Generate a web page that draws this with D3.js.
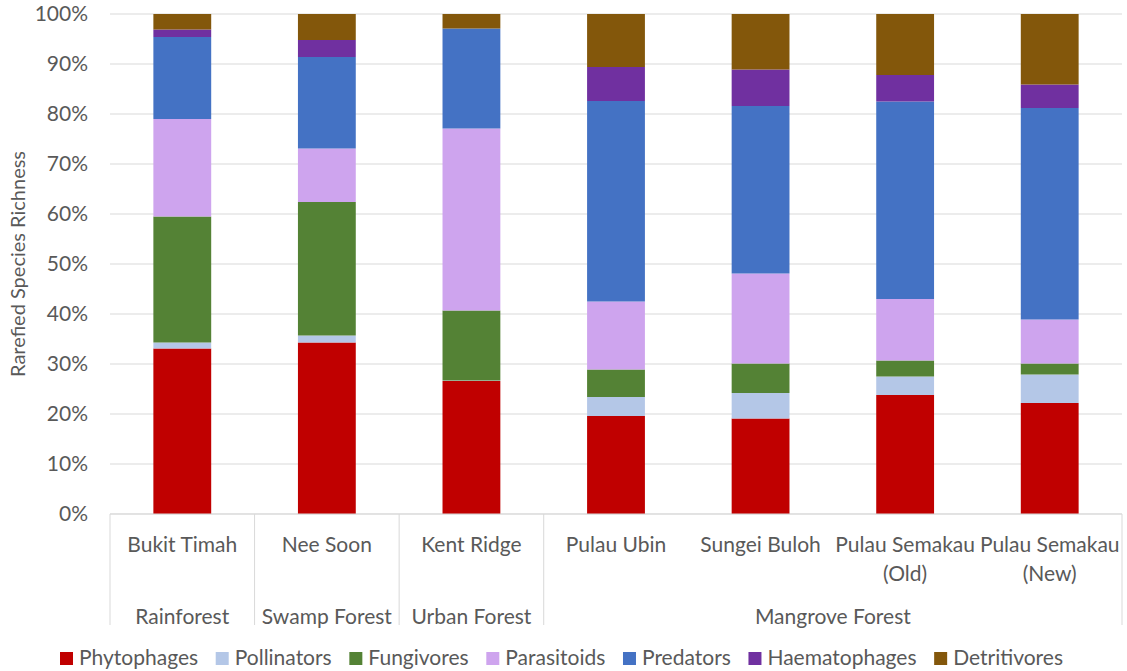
<!DOCTYPE html>
<html>
<head>
<meta charset="utf-8">
<script src="https://cdn.jsdelivr.net/npm/d3@7"></script>
<style>
  body { margin: 0; background: #fff; }
  text { font-family: Lato, "Noto Sans", sans-serif; fill: #595959; }
</style>
</head>
<body>
<div id="svg-container"></div>
<script>
/* global d3 */
(function () {
  'use strict'

  var sites = ['Bukit Timah', 'Nee Soon', 'Kent Ridge', 'Pulau Ubin', 'Sungei Buloh',
    'Pulau Semakau (Old)', 'Pulau Semakau (New)']
  var habitats = ['Rainforest', 'Swamp Forest', 'Urban Forest', 'Mangrove Forest',
    'Mangrove Forest', 'Mangrove Forest', 'Mangrove Forest']
  var guilds = ['Phytophages', 'Pollinators', 'Fungivores', 'Parasitoids', 'Predators',
    'Haematophages', 'Detritivores']

  // percent of rarefied richness per guild, one value per site
  var phytophages = [33.1, 34.3, 26.6, 19.6, 19.1, 23.8, 22.2]
  var pollinators = [1.2, 1.4, 0.1, 3.8, 5.1, 3.7, 5.7]
  var fungivores = [25.2, 26.7, 14.0, 5.5, 5.9, 3.2, 2.2]
  var parasitoids = [19.5, 10.7, 36.4, 13.6, 18.0, 12.3, 8.8]
  var predators = [16.4, 18.3, 20.0, 40.1, 33.5, 39.5, 42.3]
  var haematophages = [1.5, 3.4, 0, 6.8, 7.3, 5.3, 4.7]
  var detritivores = [3.1, 5.2, 2.9, 10.6, 11.1, 12.2, 14.1]

  var yTicks = [0, 10, 20, 30, 40, 50, 60, 70, 80, 90, 100]

  var colors = ['#c00000', '#b4c7e7', '#548235', '#cea4ee', '#4472c4', '#7030a0', '#83570b']

  var series = [phytophages, pollinators, fungivores, parasitoids, predators,
    haematophages, detritivores]

  var table = sites.map(function (s, i) {
    var row = { site: s }
    guilds.forEach(function (g, j) { row[g] = series[j][i] })
    return row
  })

  var dim = { w: 1127, h: 671 }
  var offset = { left: 110, right: 5, top: 14, bottom: 157 }
  var fontSize = '21px'

  var svg = d3.select('#svg-container').append('svg')
    .attr('width', dim.w)
    .attr('height', dim.h)

  var x = d3.scaleBand()
    .domain(sites)
    .range([offset.left, dim.w - offset.right])
    .paddingInner(0.6)
    .paddingOuter(0.3)

  var y = d3.scaleLinear()
    .domain([0, 100])
    .range([dim.h - offset.bottom, offset.top])

  // Gridlines
  svg.append('g').attr('class', 'grid')
    .selectAll('line').data(yTicks).enter().append('line')
    .attr('x1', offset.left)
    .attr('x2', dim.w - offset.right)
    .attr('y1', function (d) { return y(d) })
    .attr('y2', function (d) { return y(d) })
    .attr('stroke', '#d9d9d9')
    .attr('stroke-width', 1)

  // Y axis labels
  var yAxis = d3.axisLeft(y).tickValues(yTicks)
    .tickFormat(function (d) { return d + '%' })
    .tickSize(0).tickPadding(22)
  svg.append('g')
    .attr('transform', 'translate(' + offset.left + ',0)')
    .call(yAxis)
    .call(function (g) { g.select('.domain').remove() })
    .selectAll('text')
    .style('font-size', fontSize)
    .style('font-family', 'Lato, sans-serif')
    .attr('fill', '#595959')

  svg.append('text')
    .attr('transform', 'translate(25,' + y(50) + ') rotate(-90)')
    .attr('text-anchor', 'middle')
    .style('font-size', '20px')
    .text('Rarefied Species Richness')

  // Stacked bars
  var stack = d3.stack().keys(guilds)
  var layers = stack(table)

  svg.append('g').attr('class', 'chart')
    .selectAll('g').data(layers).enter().append('g')
    .attr('fill', function (d, i) { return colors[i] })
    .selectAll('rect').data(function (d) { return d }).enter().append('rect')
    .attr('x', function (d) { return x(d.data.site) })
    .attr('width', x.bandwidth())
    .attr('y', function (d) { return y(d[1]) })
    .attr('height', function (d) { return y(d[0]) - y(d[1]) })

  // Category axis (two levels)
  var base = y(0)
  var step = x.step()
  var half = step * 0.3
  var axisG = svg.append('g').attr('class', 'cat-axis')

  axisG.append('line')
    .attr('x1', offset.left).attr('x2', dim.w - offset.right)
    .attr('y1', base).attr('y2', base)
    .attr('stroke', '#d9d9d9')

  // group boundaries
  var groups = []
  habitats.forEach(function (h, i) {
    var last = groups[groups.length - 1]
    if (last && last.name === h) last.end = i
    else groups.push({ name: h, start: i, end: i })
  })
  var bounds = groups.map(function (g) { return x(sites[g.start]) - half })
  bounds.push(dim.w - offset.right)

  axisG.selectAll('.sep').data(bounds).enter().append('line')
    .attr('class', 'sep')
    .attr('x1', function (d) { return d }).attr('x2', function (d) { return d })
    .attr('y1', base).attr('y2', base + 111)
    .attr('stroke', '#d9d9d9')

  var siteText = axisG.selectAll('.site').data(sites).enter().append('text')
    .attr('class', 'site')
    .attr('text-anchor', 'middle')
    .attr('y', base + 38)
    .style('font-size', fontSize)
  siteText.each(function (d) {
    var parts = d.split(' (')
    var t = d3.select(this)
    var cx = x(d) + x.bandwidth() / 2
    parts.forEach(function (p, k) {
      t.append('tspan')
        .attr('x', cx)
        .attr('dy', k === 0 ? 0 : 29)
        .text(k === 0 ? p : '(' + p)
    })
  })

  axisG.selectAll('.habitat').data(groups).enter().append('text')
    .attr('class', 'habitat')
    .attr('text-anchor', 'middle')
    .attr('x', function (g) {
      return (x(sites[g.start]) - half + x(sites[g.end]) + x.bandwidth() + half) / 2
    })
    .attr('y', base + 110)
    .style('font-size', fontSize)
    .text(function (g) { return g.name })

  // Legend
  var legend = svg.append('g').attr('class', 'legend')
  var items = legend.selectAll('g').data(guilds).enter().append('g')
  items.append('rect')
    .attr('width', 13).attr('height', 13)
    .attr('y', -13)
    .attr('fill', function (d, i) { return colors[i] })
  items.append('text')
    .attr('x', 19)
    .style('font-size', fontSize)
    .text(function (d) { return d })

  var widths = []
  items.each(function () {
    widths.push(19 + d3.select(this).select('text').node().getComputedTextLength())
  })
  var left = 60
  var right = 1063
  var gap = (right - left - d3.sum(widths)) / (widths.length - 1)
  var pos = left
  var xs = widths.map(function (w) { var p = pos; pos += w + gap; return p })
  items.attr('transform', function (d, i) { return 'translate(' + xs[i] + ',665)' })
}())
</script>
</body>
</html>
